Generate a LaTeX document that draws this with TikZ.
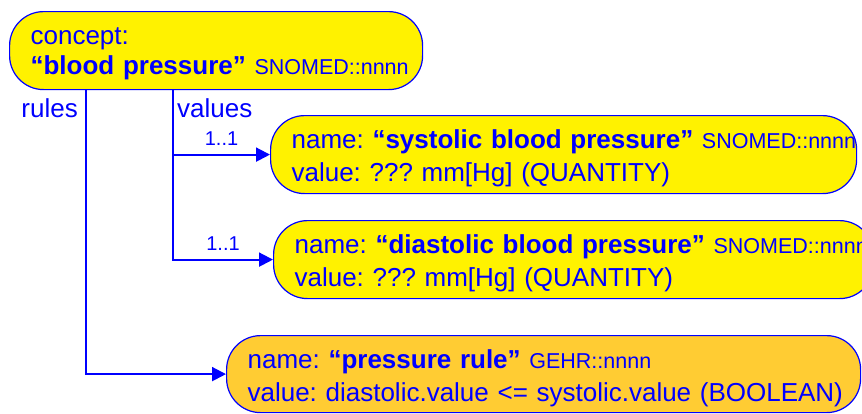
\documentclass[tikz,border=0pt]{standalone}
\usepackage{fontspec}
\setmainfont{Liberation Sans}
\usetikzlibrary{arrows.meta}

\definecolor{archblue}{RGB}{0,0,255}
\definecolor{ruleorange}{RGB}{255,204,51}

% smaller type for the terminology codes
\newcommand{\termcode}[1]{{\fontsize{21.5}{33}\selectfont #1}}
% invisible prop to push the first line down a little
\newcommand{\firstprop}[1]{\rule{0pt}{#1}}

\tikzset{
	box/.style={draw=archblue, line width=1.2pt, rounded corners=34pt, text=archblue, align=left,
		inner xsep=21pt, inner ysep=0pt, minimum height=78pt, anchor=north west,
		font=\fontsize{26}{33}\selectfont\frenchspacing},
	conceptbox/.style={box, fill=yellow, font=\fontsize{26}{30}\selectfont\frenchspacing},
	valuebox/.style={box, fill=yellow},
	rulebox/.style={box, fill=ruleorange},
	link/.style={draw=archblue, line width=2pt, -{Triangle[length=14pt,width=14pt]}},
	mult/.style={above, text=archblue, inner sep=8pt, font=\fontsize{20}{24}\selectfont},
	attr/.style={anchor=base east, text=archblue, inner sep=0pt, font=\fontsize{26}{30}\selectfont}
}

\begin{document}
\begin{tikzpicture}[x=1pt, y=-1pt]
	\useasboundingbox (0,0) rectangle (862,413);

	\node[conceptbox, text width=371pt] (concept) at (9,11)
		{\firstprop{22.5pt}concept:\\ \mbox{\textbf{“blood pressure”} \termcode{SNOMED::nnnn}}};

	\node[valuebox, text width=544pt] (systolic) at (270,115)
		{\mbox{\firstprop{26.5pt}name: \textbf{“systolic blood pressure”} \termcode{SNOMED::nnnn}}\\
		 \mbox{value: ??? mm[Hg] (QUANTITY)}};
	\node[valuebox, text width=558pt] (diastolic) at (273,220)
		{\mbox{\firstprop{26.5pt}name: \textbf{“diastolic blood pressure”} \termcode{SNOMED::nnnn}}\\
		 \mbox{value: ??? mm[Hg] (QUANTITY)}};
	\node[rulebox, text width=592pt, minimum height=77pt] (pressurerule) at (226,335)
		{\mbox{\firstprop{27.5pt}name: \textbf{“pressure rule”} \termcode{GEHR::nnnn}}\\
		 \mbox{value: diastolic.value <= systolic.value (BOOLEAN)}};

	% attribute roots on the bottom of the concept
	\coordinate (rules-root) at ([xshift=77pt]concept.south west);
	\coordinate (values-root) at ([xshift=164pt]concept.south west);

	\node[attr] (rules-label) at (78,117) {rules};
	\node[attr, anchor=base west] (values-label) at (177,117) {values};

	\draw[link] (values-root) |- node[mult, pos=0.75] (sys-mult) {1..1} (systolic.west);
	\draw[link] (values-root) |- node[mult, pos=0.75] (dia-mult) {1..1} (diastolic.west);
	\draw[link] (rules-root) |- (pressurerule.west);

\end{tikzpicture}
\end{document}
